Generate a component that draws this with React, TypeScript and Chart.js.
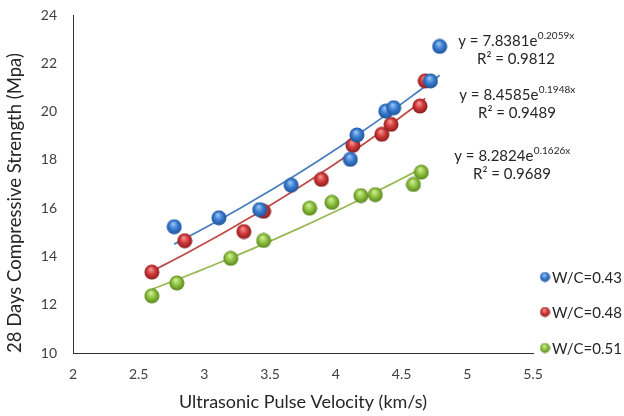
import { useEffect, useRef } from "react";
import { Chart, registerables } from "chart.js";

Chart.register(...registerables);

// Measured pulse velocity (km/s) and 28-day compressive strength (MPa) per mix
const seriesNames = ["W/C=0.43", "W/C=0.48", "W/C=0.51"];
const velocity043 = [2.77, 3.11, 3.42, 3.66, 4.11, 4.16, 4.38, 4.44, 4.72, 4.79];
const strength043 = [15.23, 15.6, 15.94, 16.95, 18.02, 19.03, 20.02, 20.16, 21.27, 22.7];
const velocity048 = [2.6, 2.85, 3.3, 3.45, 3.89, 4.13, 4.35, 4.42, 4.64, 4.68];
const strength048 = [13.35, 14.65, 15.03, 15.87, 17.19, 18.6, 19.06, 19.47, 20.23, 21.27];
const velocity051 = [2.6, 2.79, 3.2, 3.45, 3.8, 3.97, 4.19, 4.3, 4.59, 4.65];
const strength051 = [12.37, 12.9, 13.92, 14.66, 16.0, 16.24, 16.52, 16.56, 16.98, 17.49];

// Exponential fits y = a·e^(b·x), listed in the order their labels are stacked
const fitA = [7.8381, 8.4585, 8.2824];
const fitB = [0.2059, 0.1948, 0.1626];
const fitR2 = ["0.9812", "0.9489", "0.9689"];
const fitSeries = [1, 0, 2]; // index of the mix each fit belongs to

// Axis ticks
const xMin = 2;
const xMax = 5.5;
const xStep = 0.5;
const yMin = 10;
const yMax = 24;
const yStep = 2;

const FONT = "Lato, 'Open Sans', sans-serif";
const lineColors = ["#4a7ebb", "#be4b48", "#98b954"];
const sphereShades = [
  ["#a9cdf7", "#3b7fd3", "#1d4c92"],
  ["#f5a3a1", "#d23b3a", "#84191b"],
  ["#dcf2a8", "#8fc43f", "#557f1c"],
];

function makeSphere(size: number, shade: string[]) {
  const c = document.createElement("canvas");
  c.width = size;
  c.height = size;
  const ctx = c.getContext("2d")!;
  const r = size / 2;
  const g = ctx.createRadialGradient(r * 0.85, r * 0.6, 0, r, r, r);
  g.addColorStop(0, shade[0]);
  g.addColorStop(0.5, shade[1]);
  g.addColorStop(1, shade[2]);
  ctx.fillStyle = g;
  ctx.beginPath();
  ctx.arc(r, r, r - 0.5, 0, Math.PI * 2);
  ctx.fill();
  return c;
}

function toPoints(xs: number[], ys: number[]) {
  return xs.map((x, i) => ({ x, y: ys[i] }));
}

// Samples the fitted curve across the span of its mix's velocities
function fitCurve(a: number, b: number, xs: number[]) {
  const lo = Math.min(...xs);
  const hi = Math.max(...xs);
  const n = 24;
  const pts = [] as { x: number; y: number }[];
  for (let i = 0; i <= n; i++) {
    const x = lo + ((hi - lo) * i) / n;
    pts.push({ x, y: a * Math.exp(b * x) });
  }
  return pts;
}

// Fit equations beside the upper right of the plot
const equationLabelPos = [
  { x: 516, y: 41 },
  { x: 517, y: 95 },
  { x: 512, y: 156 },
];
const equationPlugin = {
  id: "equationLabels",
  afterDraw(chart: any) {
    const ctx = chart.ctx as CanvasRenderingContext2D;
    ctx.save();
    ctx.fillStyle = "#262626";
    ctx.textBaseline = "middle";
    fitA.forEach((a, i) => {
      const pos = equationLabelPos[i];
      const main = `y = ${a.toFixed(4)}e`;
      const sup = `${fitB[i].toFixed(4)}x`;
      ctx.font = `15px ${FONT}`;
      const wMain = ctx.measureText(main).width;
      ctx.font = `10px ${FONT}`;
      const wSup = ctx.measureText(sup).width;
      const left = pos.x - (wMain + wSup) / 2;
      ctx.textAlign = "left";
      ctx.font = `15px ${FONT}`;
      ctx.fillText(main, left, pos.y);
      ctx.font = `10px ${FONT}`;
      ctx.fillText(sup, left + wMain + 0.5, pos.y - 5);
      ctx.font = `15px ${FONT}`;
      ctx.textAlign = "center";
      ctx.fillText(`R² = ${fitR2[i]}`, pos.x, pos.y + 18);
    });
    ctx.restore();
  },
};

// Legend stacked at the lower right
const legendPos = { x: 545, y: [277, 312, 348] };
function makeLegendPlugin(markers: HTMLCanvasElement[]) {
  return {
    id: "sideLegend",
    afterDraw(chart: any) {
      const ctx = chart.ctx as CanvasRenderingContext2D;
      ctx.save();
      ctx.font = `15px ${FONT}`;
      ctx.fillStyle = "#262626";
      ctx.textAlign = "left";
      ctx.textBaseline = "middle";
      seriesNames.forEach((name, i) => {
        const m = markers[i];
        const y = legendPos.y[i];
        ctx.drawImage(m, legendPos.x - m.width / 2, y - m.height / 2);
        ctx.fillText(name, legendPos.x + 7, y + 1);
      });
      ctx.restore();
    },
  };
}

export default function App() {
  const canvasRef = useRef<HTMLCanvasElement | null>(null);

  useEffect(() => {
    const canvas = canvasRef.current;
    if (!canvas) return;

    const pointImgs = sphereShades.map((s) => makeSphere(16, s));
    const legendImgs = sphereShades.map((s) => makeSphere(11, s));
    const xsList = [velocity043, velocity048, velocity051];
    const ysList = [strength043, strength048, strength051];

    const pointSets = seriesNames.map((name, i) => ({
      type: "scatter" as const,
      label: name,
      data: toPoints(xsList[i], ysList[i]),
      pointStyle: pointImgs[i],
      pointRadius: 8,
      showLine: false,
      order: 0,
    }));

    const fitSets = fitA.map((a, i) => {
      const s = fitSeries[i];
      return {
        type: "line" as const,
        label: `fit ${seriesNames[s]}`,
        data: fitCurve(a, fitB[i], xsList[s]),
        borderColor: lineColors[s],
        borderWidth: 1.75,
        pointRadius: 0,
        tension: 0,
        fill: false,
        order: 1,
      };
    });

    const tickColor = "#404040";
    const chart = new Chart(canvas, {
      type: "scatter",
      data: { datasets: [...pointSets, ...fitSets] as any },
      options: {
        animation: false,
        responsive: false,
        maintainAspectRatio: false,
        layout: { padding: { top: 15, right: 91, left: 0, bottom: 0 } },
        plugins: {
          legend: { display: false },
          tooltip: { enabled: false },
        },
        scales: {
          x: {
            type: "linear",
            min: xMin,
            max: xMax,
            ticks: {
              stepSize: xStep,
              color: tickColor,
              font: { size: 14, family: FONT },
              padding: 13,
              callback: (v: any) => `${v}`,
            },
            grid: { display: false, drawTicks: false },
            border: { display: true, color: "#333333", width: 1 },
            title: {
              display: true,
              text: "Ultrasonic Pulse Velocity (km/s)",
              color: "#262626",
              font: { size: 18, family: FONT },
              padding: { top: 0, bottom: 3 },
            },
            afterFit: (s: any) => {
              s.height = 63;
              s.paddingLeft = 0;
              s.paddingRight = 0;
            },
          },
          y: {
            type: "linear",
            min: yMin,
            max: yMax,
            ticks: {
              stepSize: yStep,
              color: tickColor,
              font: { size: 14, family: FONT },
              padding: 16,
              callback: (v: any) => `${v}`,
            },
            grid: { display: false, drawTicks: false },
            border: { display: true, color: "#333333", width: 1 },
            title: {
              display: true,
              text: "28 Days Compressive Strength (Mpa)",
              align: "start",
              color: "#262626",
              font: { size: 18.5, family: FONT },
              padding: { top: 4, bottom: 0 },
            },
            afterFit: (s: any) => {
              s.width = 73;
              s.paddingTop = 0;
              s.paddingBottom = 0;
            },
          },
        },
      } as any,
      plugins: [equationPlugin, makeLegendPlugin(legendImgs)],
    });

    return () => chart.destroy();
  }, []);

  return (
    <div style={{ position: "fixed", left: 0, top: 0, width: 624, height: 416, background: "#ffffff" }}>
      <canvas ref={canvasRef} width={624} height={416} />
    </div>
  );
}
